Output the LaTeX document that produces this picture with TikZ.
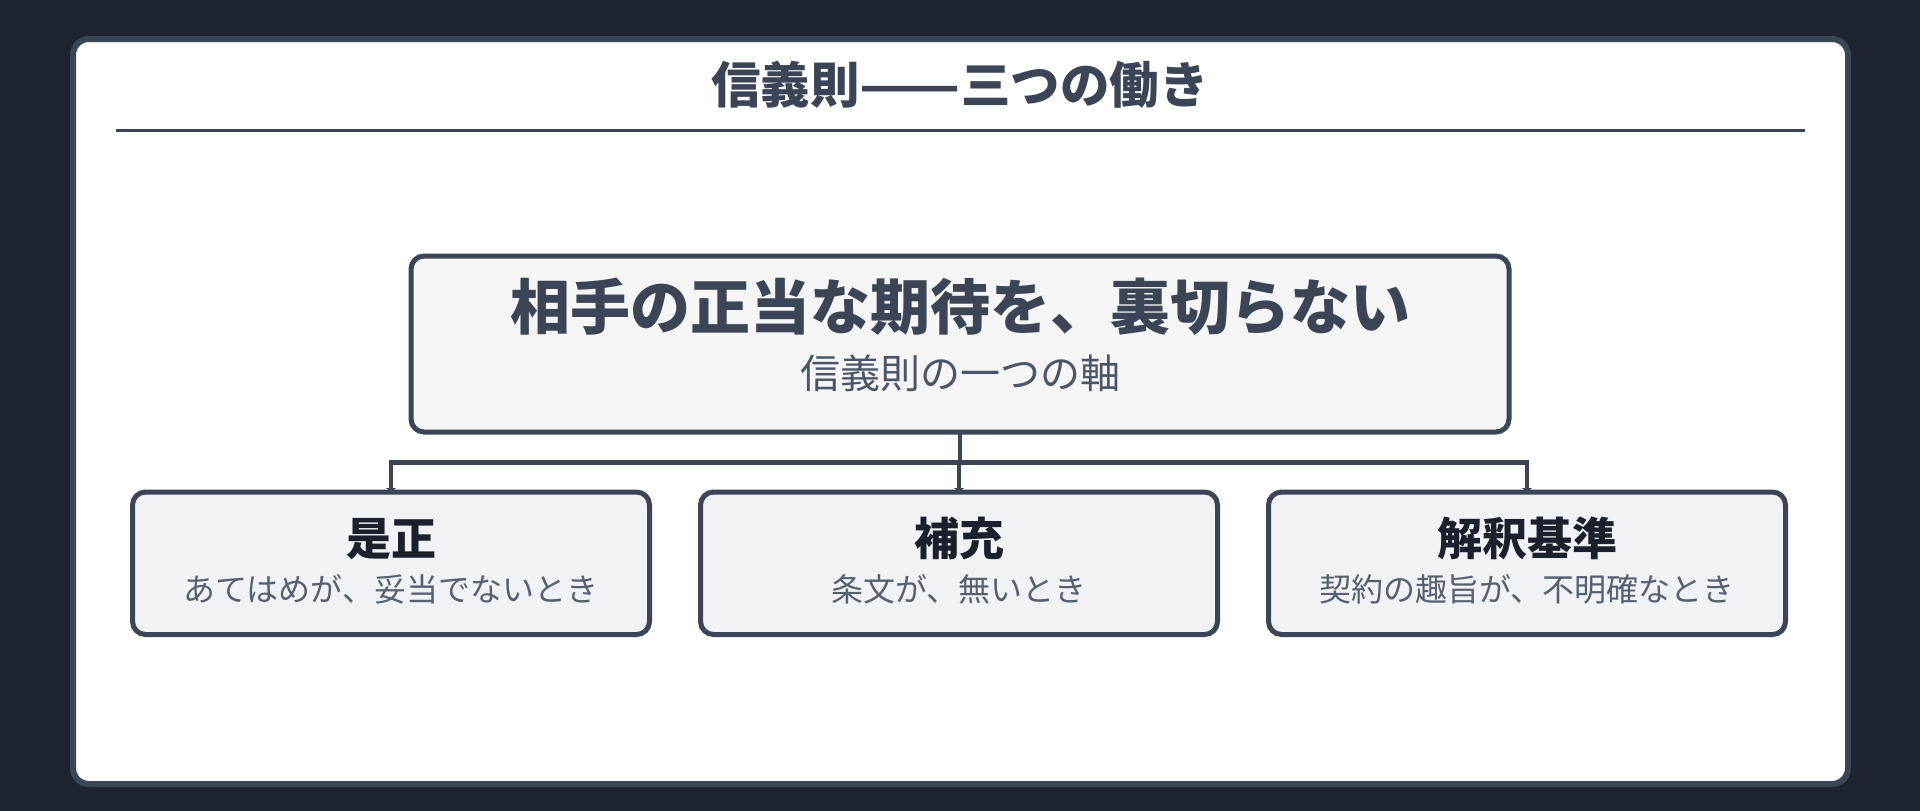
\documentclass[tikz,border=0pt]{standalone}
\usepackage{fontspec}
\usepackage{graphicx}
\setmainfont{Noto Sans CJK JP}
\usetikzlibrary{arrows.meta}
\definecolor{bgdark}{HTML}{1E2530}
\definecolor{slate}{HTML}{3B4556}
\definecolor{mainfill}{HTML}{F5F5F5}
\definecolor{childfill}{HTML}{F0F2F5}
\definecolor{subgrey}{HTML}{4A5568}
\definecolor{childtitle}{HTML}{1A202C}
\definecolor{childsub}{HTML}{566070}
\tikzset{
  cardbox/.style={draw=slate, line width=6pt, fill=white, rounded corners=16pt},
  mainbox/.style={draw=slate, line width=5pt, fill=mainfill, rounded corners=13pt,
    minimum width=1098pt, minimum height=176pt, outer sep=0pt, inner sep=0pt},
  childbox/.style={draw=slate, line width=5pt, fill=childfill, rounded corners=13pt,
    minimum width=517pt, minimum height=142.5pt, outer sep=0pt, inner sep=0pt},
  conn/.style={draw=slate, line width=4.5pt},
  arr/.style={conn, -{Triangle[length=4pt,width=10pt]}},
  txt/.style={inner sep=0pt, anchor=base},
}
\begin{document}
\begin{tikzpicture}[x=1pt,y=-1pt]
\useasboundingbox (0,0) rectangle (1920,811);
\fill[bgdark] (0,0) rectangle (1920,811);
\draw[cardbox] (73,39) rectangle (1848,784);
\node[txt, font=\bfseries\fontsize{49.5}{55}\selectfont, text=slate] (title) at (960,103.5) {信義則\scalebox{1.19}[1]{——}三つの働き};
\draw[draw=slate, line width=3pt] (116,130.5) -- (1805,130.5);

\node[mainbox] (main) at (960,344) {};
\node[txt, font=\bfseries\fontsize{60}{66}\selectfont, text=slate] (maintxt) at (960,329.5) {相手の正当な期待を、裏切らない};
\node[txt, font=\fontsize{40}{46}\selectfont, text=subgrey] (mainsub) at (960,388) {信義則の一つの軸};

\node[childbox] (c1) at (391,563.25) {};
\node[childbox] (c2) at (959,563.25) {};
\node[childbox] (c3) at (1527,563.25) {};

\node[txt, font=\bfseries\fontsize{45}{50}\selectfont, text=childtitle] (t1) at (391,555) {是正};
\node[txt, font=\bfseries\fontsize{45}{50}\selectfont, text=childtitle] (t2) at (959,555) {補充};
\node[txt, font=\bfseries\fontsize{45}{50}\selectfont, text=childtitle] (t3) at (1527,555) {解釈基準};
\node[txt, font=\fontsize{32}{36}\selectfont, text=childsub] (s1) at (391,601) {あてはめが、妥当でないとき};
\node[txt, font=\fontsize{32}{36}\selectfont, text=childsub] (s2) at (959,601) {条文が、無いとき};
\node[txt, font=\fontsize{32}{36}\selectfont, text=childsub] (s3) at (1527,601) {契約の趣旨が、不明確なとき};

\coordinate (bus) at (960,462.5);
\draw[conn] (main.south) -- (bus);
\draw[arr] (bus) -| (c1.north);
\draw[arr] (bus) -| (c3.north);
\draw[arr] (bus) -- (bus -| c2.north) -- (c2.north);
\end{tikzpicture}
\end{document}
